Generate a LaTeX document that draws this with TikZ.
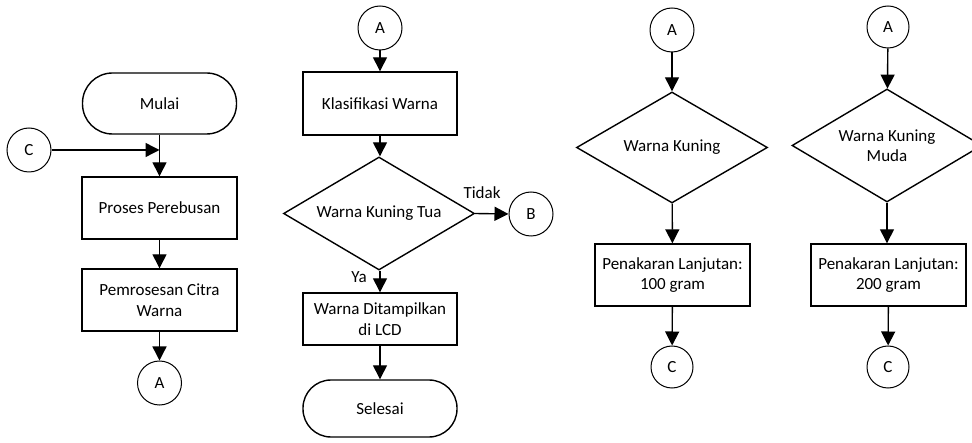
\documentclass[tikz,border=0pt]{standalone}
\usepackage{fontspec}
\setmainfont{Carlito}
\usetikzlibrary{shapes.geometric,arrows.meta}
\begin{document}
\begin{tikzpicture}[x=1pt,y=-1pt,
  every node/.style={font=\fontsize{17}{20.5}\selectfont, align=center, inner sep=0pt},
  box/.style={draw, line width=1.4pt, minimum width=155pt, minimum height=62pt},
  term/.style={draw, line width=1.4pt, rounded corners=28pt, minimum width=154pt, minimum height=58pt},
  conn/.style={draw, circle, line width=1pt, minimum size=44pt},
  dec/.style={draw, diamond, line width=1.4pt, minimum width=191pt, minimum height=112pt},
  flow/.style={line width=1.4pt, -{Triangle[width=14pt,length=14pt]}},
  lbl/.style={}]
\useasboundingbox (0,0) rectangle (972,443);
\clip (0,0) rectangle (972,443);
% column 1
\node[term, minimum height=61pt, rounded corners=30pt] (mulai) at (159.5,103.5) {Mulai};
\node[conn] (c0) at (29,150) {C};
\coordinate (j) at (159.5,150);
\node[box] (proses) at (159.5,208) {Proses Perebusan};
\node[box] (pemros) at (159.5,300) {Pemrosesan Citra\\Warna};
\node[conn] (a0) at (159.5,383) {A};
\draw[line width=1.4pt] (mulai.south) -- (j);
\draw[flow] (j) -- (proses.north);
\draw[flow] (c0.east) -- (j);
\draw[flow] (proses) -- (pemros);
\draw[flow] (pemros) -- (a0);
% column 2
\node[conn] (a1) at (380,28) {A};
\node[box, minimum width=154pt, minimum height=63pt] (klas) at (380,103.5) {Klasifikasi Warna};
\node[dec, minimum height=113pt, label=center:{Warna Kuning Tua}] (d1) at (379,213.5) {};
\node[conn] (b) at (531,214) {B};
\node[lbl] (tidak) at (482,193) {Tidak};
\node[lbl] (ya) at (359,277) {Ya};
\node[box, minimum width=154pt, minimum height=52pt] (disp) at (380,319) {Warna Ditampilkan\\di LCD};
\node[term, minimum height=57pt] (selesai) at (380,408.5) {Selesai};
\draw[flow] (a1) -- (klas);
\draw[flow] (klas.south) -- (klas.south |- d1.north);
\draw[flow] (d1.east) -- (b.west);
\draw[flow] (disp.north |- d1.south) -- (disp.north);
\draw[flow] (disp) -- (selesai);
% column 3
\node[conn] (a2) at (672,30) {A};
\node[dec, minimum height=111pt, label=center:{Warna Kuning}] (d2) at (672,147.5) {};
\node[box] (p2) at (672.5,275) {Penakaran Lanjutan:\\100 gram};
\node[conn, minimum size=42pt] (c2) at (672,367) {C};
\draw[flow] (a2) -- (d2);
\draw[flow] (d2) -- (p2);
\draw[flow] (p2) -- (c2);
% column 4
\node[conn, minimum size=42pt] (a3) at (888,27) {A};
\node[dec, minimum width=190pt, minimum height=113pt, label=center:{Warna Kuning\\Muda}] (d3) at (887,145.5) {};
\node[box] (p3) at (888.5,275) {Penakaran Lanjutan:\\200 gram};
\node[conn, minimum size=42pt] (c3) at (888,367) {C};
\draw[flow] (a3) -- (d3);
\draw[flow] (d3) -- (p3.north -| d3.south);
\draw[flow] (p3) -- (c3);
\end{tikzpicture}
\end{document}
